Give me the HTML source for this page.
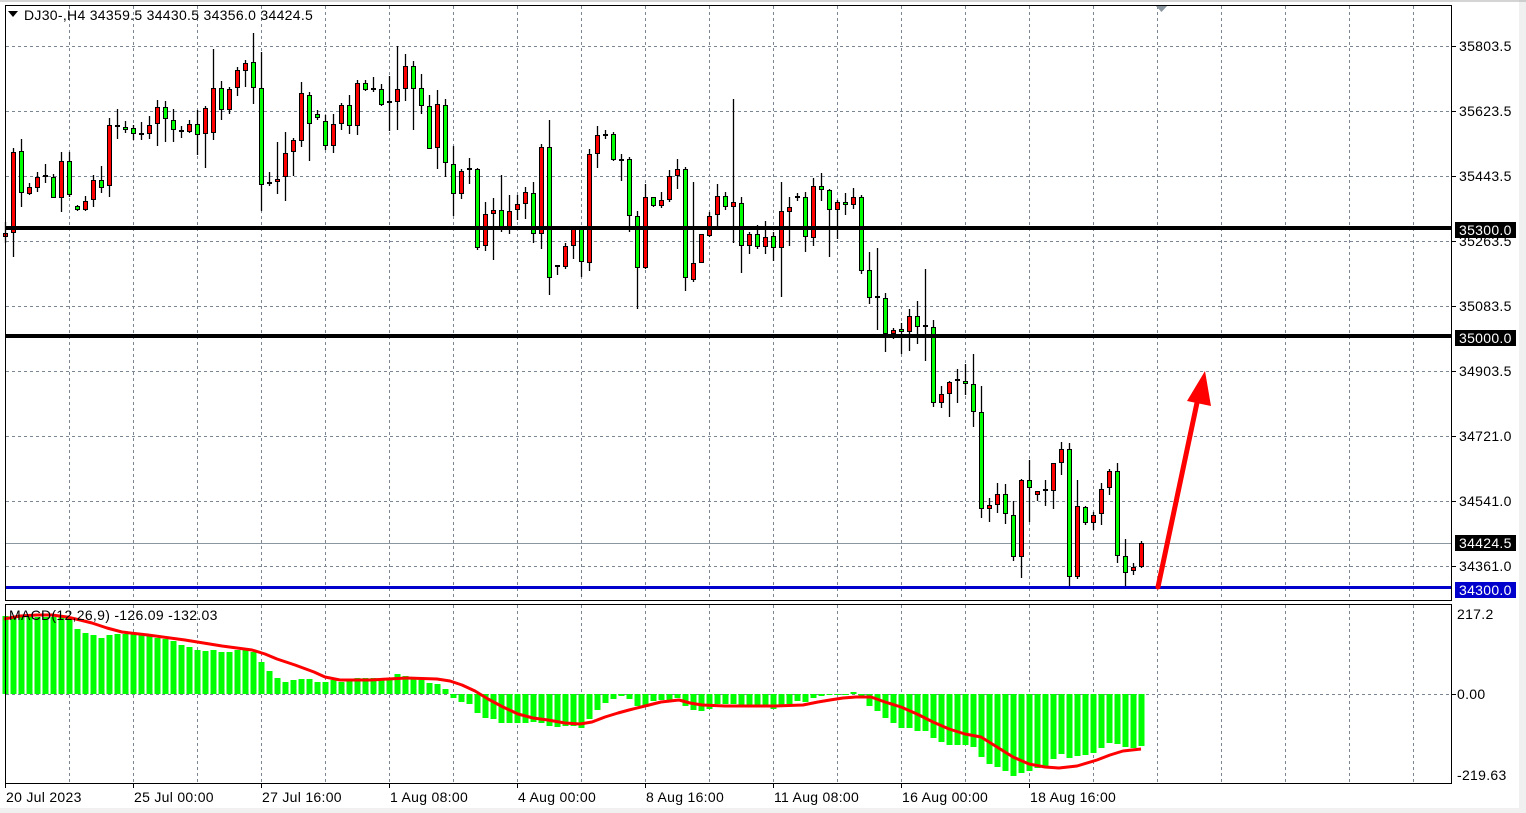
<!DOCTYPE html>
<html><head><meta charset="utf-8"><style>
html,body{margin:0;padding:0;background:#fff;}
svg{display:block;font-family:"Liberation Sans",sans-serif;}
text{letter-spacing:0.3px;}
</style></head><body>
<svg id="s" width="1526" height="813" xmlns="http://www.w3.org/2000/svg"></svg>
<script>
var s=document.getElementById('s');var h='';
h+='<rect x="0" y="0" width="1526" height="813" fill="#fff"/>';
h+='<rect x="1519" y="0" width="7" height="813" fill="#f0f0f0"/><rect x="0" y="808" width="1526" height="5" fill="#f0f0f0"/>';
for(var x=69;x<1452;x+=64){h+='<line x1="'+(x+.5)+'" y1="6" x2="'+(x+.5)+'" y2="600" stroke="#7a8694" stroke-dasharray="3,3"/>';h+='<line x1="'+(x+.5)+'" y1="605" x2="'+(x+.5)+'" y2="783" stroke="#7a8694" stroke-dasharray="3,3"/>';}
var ys=[46,111,176,241,306,371,436,501,566];
ys.forEach(function(y){h+='<line x1="6" y1="'+(y+.5)+'" x2="1452" y2="'+(y+.5)+'" stroke="#7a8694" stroke-dasharray="3,3"/>';});
h+='<line x1="6" y1="694.5" x2="1452" y2="694.5" stroke="#7a8694" stroke-dasharray="3,3"/>';
h+='<line x1="6" y1="543.5" x2="1452" y2="543.5" stroke="#8a96a0" stroke-width="1"/>';
var C=[[5,222,233,237,243,'r'],[13,148,152,233,257,'r'],[21,139,151,193,207,'g'],[29,183,187,194,195,'r'],[37,172,177,188,192,'r'],[45,164,176,176,183,'d'],[53,174,177,198,198,'g'],[61,152,161,198,212,'r'],[69,152,161,195,197,'g'],[77,205,206,210,211,'g'],[85,196,201,210,211,'r'],[93,175,180,200,207,'r'],[101,166,180,188,193,'g'],[109,118,125,186,197,'r'],[117,109,125,127,139,'g'],[125,121,127,130,133,'g'],[133,125,128,134,140,'g'],[141,122,134,134,140,'d'],[149,116,125,134,139,'r'],[157,100,107,124,146,'r'],[165,101,107,119,142,'g'],[173,109,120,130,142,'g'],[181,126,130,132,138,'g'],[189,120,124,132,133,'r'],[197,110,124,135,155,'g'],[205,106,108,134,168,'r'],[213,49,88,133,140,'r'],[221,81,88,110,120,'g'],[229,87,89,110,114,'r'],[237,67,70,88,96,'r'],[245,60,63,71,87,'r'],[253,33,62,88,104,'g'],[261,52,88,185,211,'g'],[269,172,182,184,186,'r'],[277,142,179,182,194,'r'],[285,132,153,177,201,'r'],[293,138,140,152,176,'r'],[301,82,93,141,147,'r'],[309,92,95,124,161,'g'],[317,110,114,118,120,'g'],[325,115,121,146,150,'g'],[333,114,124,146,153,'r'],[341,103,105,124,130,'r'],[349,95,105,126,134,'g'],[357,80,83,126,135,'r'],[365,80,83,90,91,'g'],[373,77,88,90,92,'r'],[381,84,89,105,106,'g'],[389,76,101,103,131,'r'],[397,46,89,102,130,'r'],[405,54,66,89,101,'r'],[413,61,66,89,130,'g'],[421,74,88,106,114,'g'],[429,95,106,149,149,'g'],[437,90,104,148,169,'r'],[445,99,105,163,177,'g'],[453,146,164,194,216,'g'],[461,169,171,194,199,'r'],[469,158,168,170,184,'r'],[477,168,169,248,250,'g'],[485,202,214,246,251,'r'],[493,198,210,214,260,'r'],[501,175,210,227,232,'g'],[509,195,211,227,234,'r'],[517,195,204,210,220,'r'],[525,187,192,204,219,'r'],[533,182,193,234,243,'g'],[541,144,147,234,249,'r'],[549,120,147,278,295,'g'],[557,265,266,268,275,'d'],[565,243,246,267,269,'r'],[573,229,229,246,259,'r'],[581,229,229,262,277,'g'],[589,149,154,263,271,'r'],[597,126,135,154,168,'r'],[605,130,134,136,139,'r'],[613,132,134,160,161,'g'],[621,154,160,160,181,'d'],[629,157,159,216,232,'g'],[637,211,216,268,309,'g'],[645,184,197,268,269,'r'],[653,197,197,206,207,'g'],[661,192,200,206,208,'r'],[669,170,176,200,202,'r'],[677,159,169,176,189,'r'],[685,167,169,278,291,'g'],[693,182,263,280,282,'r'],[701,234,234,263,263,'r'],[709,212,216,236,237,'r'],[717,184,196,215,227,'r'],[725,192,196,207,210,'g'],[733,99,202,207,243,'r'],[741,197,203,246,273,'g'],[749,232,234,246,254,'r'],[757,225,234,247,249,'g'],[765,221,237,247,254,'r'],[773,232,236,248,261,'g'],[781,182,211,248,297,'r'],[789,197,207,212,246,'r'],[797,193,197,197,201,'d'],[805,192,197,237,252,'g'],[813,178,186,238,246,'r'],[821,173,186,190,201,'g'],[829,189,190,210,257,'g'],[837,200,202,210,239,'r'],[845,193,202,205,215,'g'],[853,188,197,205,209,'r'],[861,195,197,271,274,'g'],[869,252,270,298,304,'g'],[877,248,297,298,330,'d'],[885,293,298,334,352,'g'],[893,328,330,334,339,'r'],[901,323,329,332,354,'g'],[909,309,316,332,351,'r'],[917,301,316,327,344,'g'],[925,269,326,327,361,'d'],[933,320,327,403,407,'g'],[941,386,394,403,408,'r'],[949,381,382,394,417,'r'],[957,369,380,381,403,'d'],[965,364,381,384,395,'g'],[973,354,384,412,427,'g'],[981,386,412,509,518,'g'],[989,498,505,509,522,'r'],[997,483,494,505,513,'r'],[1005,484,494,514,524,'g'],[1013,501,515,557,561,'g'],[1021,479,480,557,578,'r'],[1029,460,480,488,522,'g'],[1037,491,491,495,501,'r'],[1045,480,490,491,506,'d'],[1053,463,463,491,509,'r'],[1061,442,449,463,475,'r'],[1069,443,449,577,587,'g'],[1077,480,506,577,579,'r'],[1085,506,507,523,525,'g'],[1093,512,515,523,530,'r'],[1101,483,489,514,525,'r'],[1109,469,471,488,495,'r'],[1117,463,471,556,563,'g'],[1125,539,556,573,587,'g'],[1133,563,567,571,575,'r'],[1141,541,543,567,568,'r']];
C.forEach(function(c){var x=c[0];h+='<line x1="'+(x+.5)+'" y1="'+c[1]+'" x2="'+(x+.5)+'" y2="'+c[4]+'" stroke="#000" stroke-width="1.3"/>';
if(c[5]=='d'){h+='<rect x="'+(x-2)+'" y="'+(c[2]-1)+'" width="5" height="2" fill="#000"/>';}
else{var hh=Math.max(c[3]-c[2],2);h+='<rect x="'+(x-1.5)+'" y="'+(c[2]+.5)+'" width="4" height="'+(hh-1)+'" fill="'+(c[5]=='r'?'#ff0000':'#00ff00')+'" stroke="#000" stroke-width="1"/>';}});
h+='<rect x="5" y="226" width="1447" height="4" fill="#000"/>';
h+='<rect x="5" y="334" width="1447" height="4" fill="#000"/>';
h+='<rect x="5" y="586" width="1447" height="3" fill="#0000cc"/>';
h+='<line x1="1158" y1="587" x2="1198" y2="398" stroke="#ff0000" stroke-width="5" stroke-linecap="round"/>';
h+='<polygon points="1205,371 1211,406 1187,401" fill="#ff0000"/>';
h+='<polygon points="1155,5 1168,5 1161.5,12" fill="#8a96a0"/>';
var H=[[5,616],[13,617],[21,617],[29,617],[37,617],[45,617],[53,617],[61,617],[69,618],[77,629],[85,633],[93,635],[101,638],[109,635],[117,634],[125,634],[133,634],[141,635],[149,636],[157,638],[165,639],[173,641],[181,645],[189,647],[197,650],[205,651],[213,650],[221,652],[229,652],[237,650],[245,650],[253,652],[261,662],[269,671],[277,678],[285,682],[293,680],[301,679],[309,679],[317,682],[325,682],[333,680],[341,682],[349,679],[357,678],[365,678],[373,678],[381,678],[389,678],[397,674],[405,676],[413,678],[421,678],[429,683],[437,684],[445,689],[453,698],[461,702],[469,704],[477,713],[485,718],[493,719],[501,723],[509,723],[517,723],[525,723],[533,722],[541,723],[549,726],[557,727],[565,726],[573,726],[581,728],[589,719],[597,710],[605,703],[613,699],[621,696],[629,699],[637,706],[645,707],[653,701],[661,700],[669,700],[677,698],[685,706],[693,710],[701,711],[709,709],[717,704],[725,704],[733,704],[741,705],[749,706],[757,706],[765,706],[773,709],[781,705],[789,704],[797,701],[805,702],[813,698],[821,696],[829,695],[837,695],[845,695],[853,692],[861,696],[869,706],[877,711],[885,718],[893,723],[901,728],[909,728],[917,731],[925,731],[933,738],[941,742],[949,745],[957,745],[965,745],[973,747],[981,757],[989,764],[997,767],[1005,771],[1013,776],[1021,773],[1029,771],[1037,768],[1045,766],[1053,759],[1061,754],[1069,758],[1077,756],[1085,755],[1093,753],[1101,748],[1109,743],[1117,744],[1125,747],[1133,748],[1141,746]];
H.forEach(function(b){var y0=694,y=b[1];var t=Math.min(y,y0),hh=Math.max(Math.abs(y-y0),1);h+='<rect x="'+(b[0]-2.5)+'" y="'+t+'" width="6" height="'+hh+'" fill="#00ff00"/>';});
var L=[[4,619],[20,616],[37,615],[52,615],[67,617],[80,620],[92,623],[107,628],[122,632],[148,635],[185,640],[222,646],[252,650],[265,654],[277,659],[295,665],[314,672],[325,677],[340,680],[370,680],[407,678],[437,679],[450,681],[462,685],[475,691],[488,699],[503,707],[518,714],[533,718],[548,720],[565,723],[580,724],[592,722],[605,717],[618,713],[629,710],[645,706],[661,702],[679,700],[690,703],[702,705],[725,706],[747,706],[775,706],[803,705],[818,702],[830,700],[843,698],[856,697],[871,697],[885,702],[901,707],[917,714],[933,722],[949,729],[965,734],[981,737],[997,747],[1013,757],[1029,764],[1045,767],[1059,768],[1077,766],[1097,760],[1110,755],[1123,751],[1141,749]];
h+='<polyline points="'+L.map(function(p){return p.join(',');}).join(' ')+'" fill="none" stroke="#ff0000" stroke-width="3" stroke-linejoin="round"/>';
h+='<rect x="5.5" y="5.5" width="1446" height="595" fill="none" stroke="#000"/>';
h+='<rect x="5.5" y="604.5" width="1446" height="179" fill="none" stroke="#000"/>';
h+='<line x1="0" y1="1" x2="1526" y2="1" stroke="#aaa"/>';
var P=[[46,'35803.5'],[111,'35623.5'],[176,'35443.5'],[241,'35263.5'],[306,'35083.5'],[371,'34903.5'],[436,'34721.0'],[501,'34541.0'],[566,'34361.0']];
P.forEach(function(p){h+='<line x1="1452" y1="'+(p[0]+.5)+'" x2="1456" y2="'+(p[0]+.5)+'" stroke="#000"/><text x="1459" y="'+(p[0]+5)+'" font-size="14" fill="#000">'+p[1]+'</text>';});
function box(y,t,c){h+='<rect x="1455" y="'+(y-8)+'" width="61" height="16" fill="'+c+'"/><text x="1459" y="'+(y+5)+'" font-size="14" fill="#fff">'+t+'</text>';}
box(230,'35300.0','#000');box(338,'35000.0','#000');box(543,'34424.5','#000');box(590,'34300.0','#0000cc');
h+='<text x="1457" y="619" font-size="14">217.2</text><text x="1457" y="699" font-size="14">0.00</text><text x="1457" y="780" font-size="14">-219.63</text>';
h+='<line x1="1452" y1="694.5" x2="1456" y2="694.5" stroke="#000"/>';
var T=[[5,'20 Jul 2023'],[133,'25 Jul 00:00'],[261,'27 Jul 16:00'],[389,'1 Aug 08:00'],[517,'4 Aug 00:00'],[645,'8 Aug 16:00'],[773,'11 Aug 08:00'],[901,'16 Aug 00:00'],[1029,'18 Aug 16:00']];
T.forEach(function(t){h+='<line x1="'+(t[0]+.5)+'" y1="784" x2="'+(t[0]+.5)+'" y2="788" stroke="#000"/><text x="'+(t[0]+1)+'" y="802" font-size="14">'+t[1]+'</text>';});
h+='<polygon points="8,11 18,11 13,17" fill="#000"/><text x="24" y="20" font-size="14">DJ30-,H4  34359.5 34430.5 34356.0 34424.5</text>';
h+='<text x="9" y="620" font-size="14">MACD(12,26,9) -126.09 -132.03</text>';
s.innerHTML=h;
</script>
</body></html>
